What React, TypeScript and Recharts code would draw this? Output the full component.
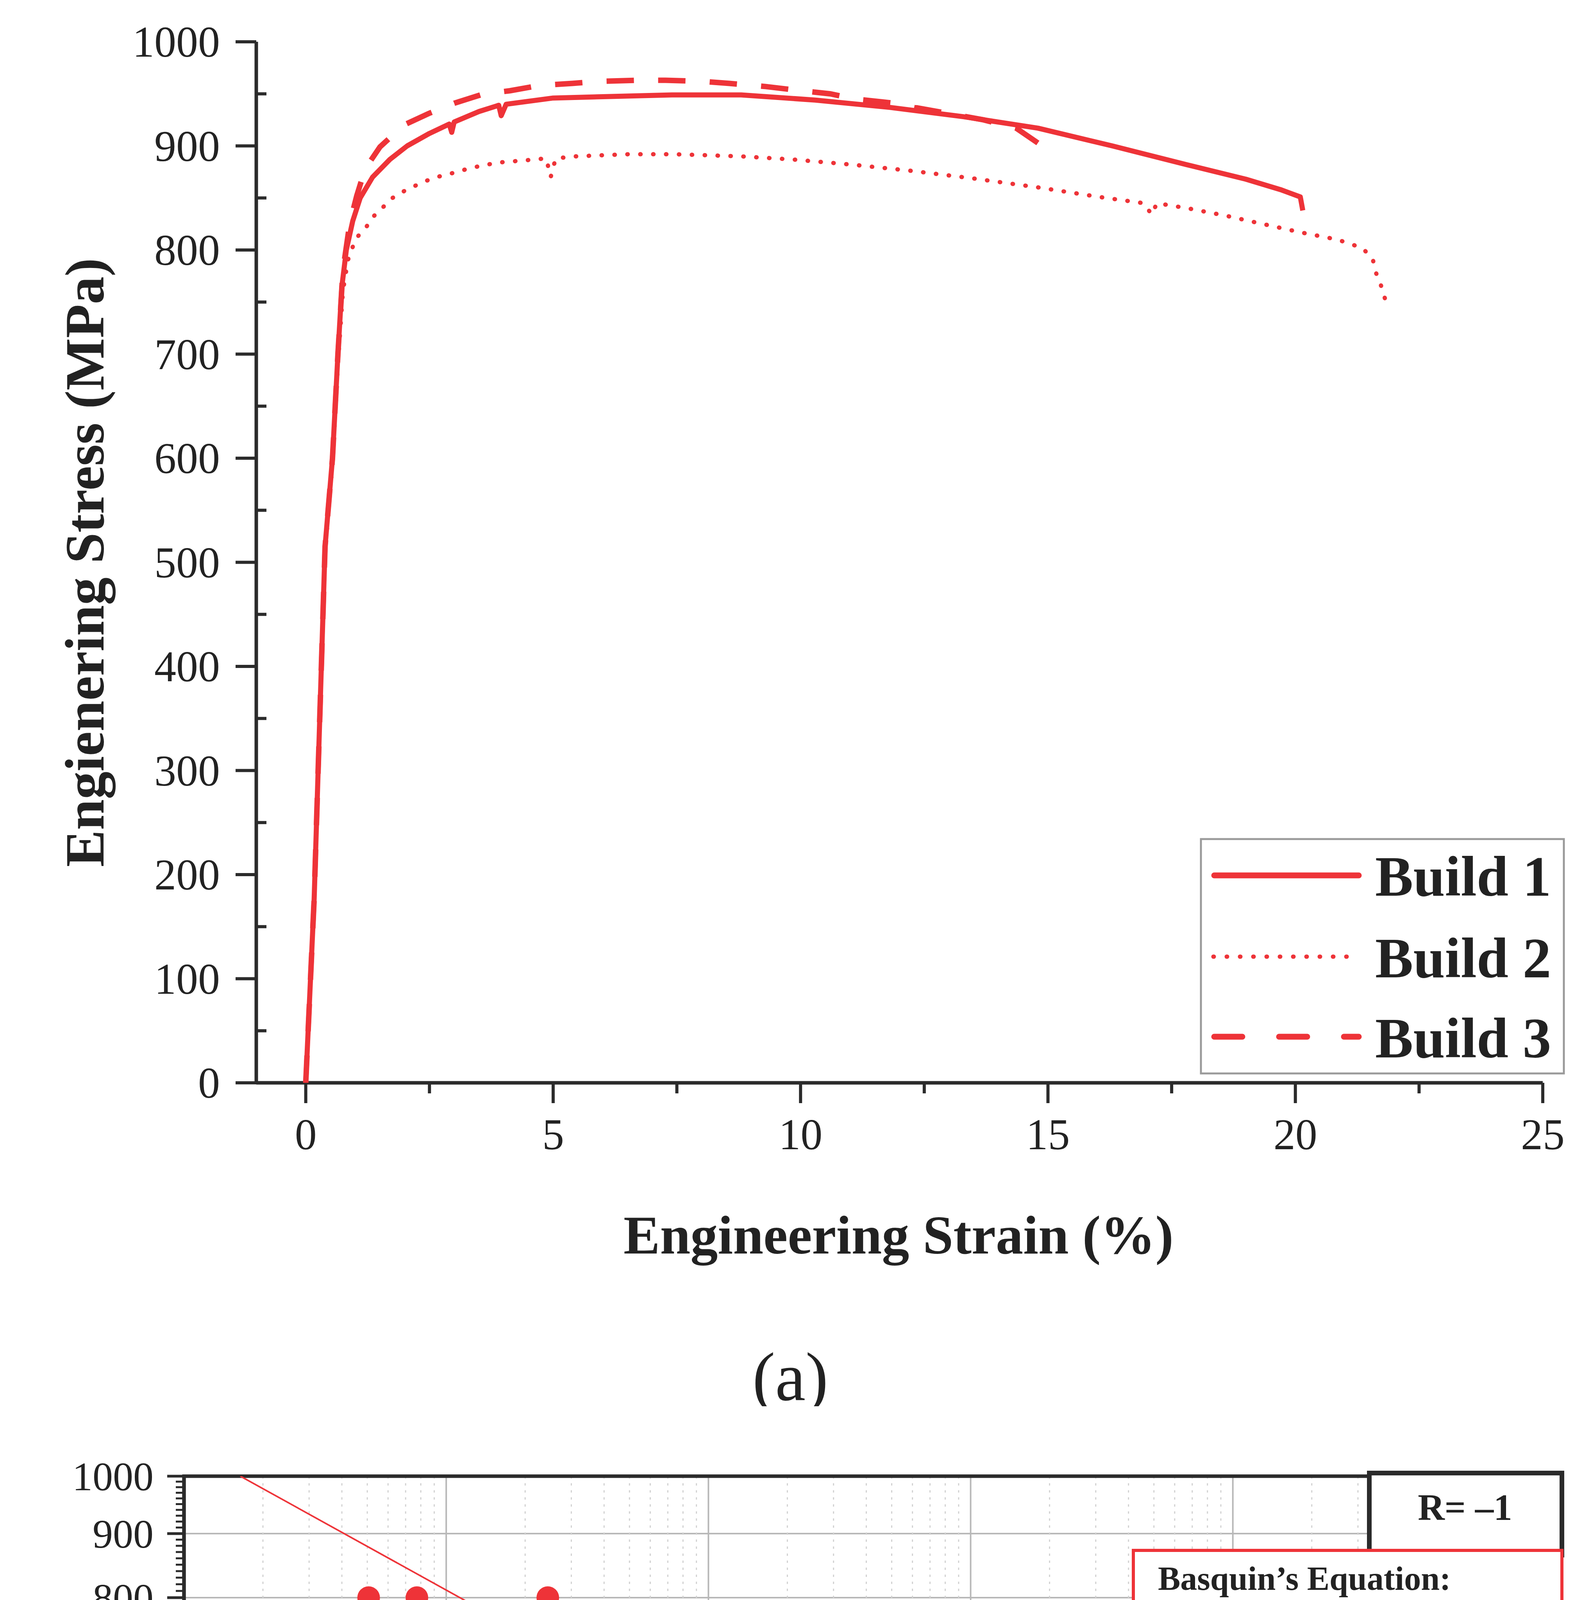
import React from "react"
import { ScatterChart, Scatter, XAxis, YAxis, CartesianGrid, ReferenceArea } from "recharts"

const RED = "#EE3338"
const AXIS = "#2B2B2B"
const INK = "#222222"
const SERIF = "'Liberation Serif', 'Times New Roman', serif"

// (a) tensile curves, [strain %, stress MPa]
const build1: [number, number][] = [
  [0, 0], [0.17, 177], [0.39, 515], [0.54, 600], [0.65, 700], [0.73, 765], [0.82, 800],
  [0.95, 828], [1.1, 850], [1.35, 870], [1.7, 887], [2.05, 900], [2.5, 912], [2.9, 921],
  [2.95, 913], [3.0, 923], [3.5, 933], [3.9, 939], [3.95, 929], [4.05, 940], [5.0, 946],
  [5.8, 947], [7.4, 949], [8.8, 949], [10.3, 944], [11.8, 937], [13.3, 928], [14.8, 917],
  [16.3, 900], [17.8, 882], [19.0, 868], [19.7, 858], [20.1, 851], [20.15, 838],
]
const build2: [number, number][] = [
  [0, 0], [0.17, 177], [0.39, 510], [0.54, 595], [0.65, 690], [0.75, 760], [0.85, 790],
  [1.01, 811], [1.21, 821], [1.34, 831], [1.54, 840], [1.72, 849], [1.92, 855], [2.18, 861],
  [2.41, 866], [2.64, 870], [2.9, 873], [3.35, 879], [3.88, 884], [4.41, 886], [4.86, 888],
  [4.95, 870], [5.05, 888], [5.47, 890], [6.52, 892], [7.42, 892], [8.78, 890], [9.83, 887],
  [11.04, 882], [12.25, 876], [13.45, 869], [14.82, 860], [16.03, 851], [16.93, 845],
  [17.1, 834], [17.2, 845], [17.83, 840], [18.59, 833], [19.34, 825], [20.1, 817],
  [20.85, 810], [21.35, 802], [21.56, 792], [21.63, 778], [21.73, 766], [21.8, 755], [21.88, 743],
]
const build3: [number, number][] = [
  [0, 0], [0.17, 177], [0.39, 515], [0.54, 600], [0.65, 700], [0.75, 780], [0.89, 826],
  [1.03, 852], [1.2, 878], [1.5, 899], [1.98, 920], [2.48, 931], [3.0, 941], [3.6, 950],
  [4.13, 953], [4.71, 958], [5.39, 960], [5.91, 962], [6.67, 963], [7.27, 963], [8.0, 962],
  [8.56, 960], [9.3, 957], [9.83, 954], [10.6, 950], [11.1, 945], [11.9, 941], [12.3, 937],
  [13.0, 931], [13.7, 925], [14.36, 917], [14.82, 902],
]

const strainTicks = [0, 5, 10, 15, 20, 25]
const strainMinor = [2.5, 7.5, 12.5, 17.5, 22.5]
const stressTicks = [0, 100, 200, 300, 400, 500, 600, 700, 800, 900, 1000]
const stressMinor = [50, 150, 250, 350, 450, 550, 650, 750, 850, 950]

// (b) S-N data, [cycles to failure, stress amplitude MPa]
const wireDed: [number, number][] = [
  [506, 800], [773, 800], [2440, 800], [5940, 700], [7550, 700], [9460, 700], [5740, 600],
  [13600, 600], [40800, 600], [17900, 500], [54400, 500], [71700, 500], [168000, 400],
]
const edwards: [number, number][] = [
  [2150, 538], [2250, 525], [3520, 476], [8050, 470], [6250, 420], [13460, 414],
  [12600, 298], [23900, 291], [72100, 178], [170000, 168.5],
]
const rafi: [number, number][] = [
  [19700, 402], [90600, 302], [881000, 321], [2230000, 282], [9930000, 276.5],
  [10100000, 258], [9800000, 243],
]
const ackelid: [number, number][] = [
  [19450, 643], [22100, 643], [31300, 604], [34400, 602], [35300, 559], [40600, 562],
  [58600, 482], [73400, 482], [90800, 486], [142000, 403], [204600, 401], [213000, 373],
  [208000, 365], [420000, 364], [906000, 364], [288000, 351], [198600, 349], [170600, 338],
  [212000, 328], [246000, 328], [302000, 314], [9570000, 339],
]
const ahmad: [number, number][] = [[88300, 350], [167000, 268.5], [194000, 205], [244000, 205]]
const molaei: [number, number][] = [
  [25400, 545], [30400, 545], [32200, 546], [37300, 449], [54500, 449], [78100, 365],
  [87100, 365], [97600, 365], [111700, 365], [133000, 300], [154000, 300], [246000, 300],
  [277000, 300], [782000, 244], [1160000, 246],
]
const runouts: [number, number][] = [[9570000, 339], [9930000, 276.5], [10100000, 258], [9800000, 243]]
const basquin: [number, number][] = [[164, 1000], [17500000, 262]]

const cycleTicks = [1e2, 1e3, 1e4, 1e5, 1e6, 1e7]
const cycleMinor = cycleTicks.slice(0, -1).flatMap((d) => [2, 3, 4, 5, 6, 7, 8, 9].map((m) => m * d))
const ampTicks = [200, 300, 400, 500, 600, 700, 800, 900, 1000]
const ampMinor = Array.from({ length: 86 }, (_, i) => 150 + i * 10).filter((v) => v % 100 !== 0)

const toXY = (pts: [number, number][]) => pts.map(([x, y]) => ({ x, y }))
const byNum = (a: number, b: number) => a - b

// ---------- ticks ----------
function StrainTick({ x, y, payload }: any) {
  const v = payload.value
  const major = strainTicks.includes(v)
  return (
    <g>
      <line x1={x} x2={x} y1={y} y2={y + (major ? 52 : 27)} stroke={AXIS} strokeWidth={8} />
      {major && (
        <text x={x} y={y + 170} textAnchor="middle" fontFamily={SERIF} fontSize={112} fill={INK}>
          {v}
        </text>
      )}
    </g>
  )
}

function StressTick({ x, y, payload }: any) {
  const v = payload.value
  const major = stressTicks.includes(v)
  if (!major) return <line x1={x} x2={x + 26} y1={y} y2={y} stroke={AXIS} strokeWidth={8} />
  return (
    <g>
      <line x1={x - 53} x2={x} y1={y} y2={y} stroke={AXIS} strokeWidth={8} />
      <text x={x - 93} y={y + 38} textAnchor="end" fontFamily={SERIF} fontSize={112} fill={INK}>
        {v}
      </text>
    </g>
  )
}

function CycleTick({ x, y, payload }: any) {
  const v = payload.value
  const major = cycleTicks.includes(v)
  if (!major) return <line x1={x} x2={x} y1={y} y2={y + 24} stroke={AXIS} strokeWidth={6} />
  return (
    <g>
      <line x1={x} x2={x} y1={y} y2={y + 48} stroke={AXIS} strokeWidth={7} />
      <text x={x} y={y + 178} textAnchor="middle" fontFamily={SERIF} fontSize={100} fill={INK}>
        10
        <tspan dy={-40} fontSize={62}>
          {Math.round(Math.log10(v))}
        </tspan>
      </text>
    </g>
  )
}

function AmpTick({ x, y, payload }: any) {
  const v = payload.value
  const major = ampTicks.includes(v)
  if (!major) return <line x1={x - 21} x2={x} y1={y} y2={y} stroke={AXIS} strokeWidth={5} />
  return (
    <g>
      <line x1={x - 43} x2={x} y1={y} y2={y} stroke={AXIS} strokeWidth={7} />
      <text x={x - 78} y={y + 36} textAnchor="end" fontFamily={SERIF} fontSize={104} fill={INK}>
        {v}
      </text>
    </g>
  )
}

// ---------- markers ----------
const Dot = ({ cx, cy }: any) => <circle cx={cx} cy={cy} r={29} fill={RED} />
const TriDown = ({ cx, cy }: any) => (
  <path d={`M${cx - 37},${cy - 31}L${cx + 37},${cy - 31}L${cx},${cy + 33}Z`} fill="none" stroke="#1F70B8" strokeWidth={8} />
)
const TriUp = ({ cx, cy }: any) => (
  <path d={`M${cx - 38},${cy + 31}L${cx + 38},${cy + 31}L${cx},${cy - 33}Z`} fill="none" stroke={INK} strokeWidth={9} />
)
const Sq = ({ cx, cy }: any) => (
  <rect x={cx - 27} y={cy - 27} width={54} height={54} fill="none" stroke="#25A03A" strokeWidth={8} />
)
const Penta = ({ cx, cy }: any) => {
  const pts = [0, 1, 2, 3, 4]
    .map((k) => {
      const a = ((-90 + 72 * k) * Math.PI) / 180
      return `${cx + 32 * Math.cos(a)},${cy + 32 * Math.sin(a)}`
    })
    .join(" ")
  return <polygon points={pts} fill="#85D2F6" stroke="#A57CC9" strokeWidth={5} />
}
const Diamond = ({ cx, cy }: any) => (
  <path d={`M${cx},${cy - 37}L${cx + 37},${cy}L${cx},${cy + 37}L${cx - 37},${cy}Z`} fill="#F4A3A8" stroke="#2E3192" strokeWidth={8} />
)
const Arrow = ({ cx, cy }: any) => (
  <g>
    <line x1={cx + 30} x2={cx + 75} y1={cy + 4} y2={cy + 4} stroke={INK} strokeWidth={5} />
    <polygon points={`${cx + 62},${cy - 12} ${cx + 128},${cy + 4} ${cx + 62},${cy + 20}`} fill={INK} />
  </g>
)
const Nothing = () => <g />

const legendB = [
  { label: "Wire-DED ASHM, AD, polished, (current study)", Shape: Dot },
  { label: "E-beam, AD, machined, Edwards et al. (2013)", Shape: TriDown },
  { label: "E-beam, AD, machined, Rafi et al. (2013)", Shape: TriUp },
  { label: "E-beam, AD, machined, Ackelid et al. (2009)", Shape: Sq },
  { label: "L-PBF, AD, polished, Ahmad et al. (2025)", Shape: Penta },
  { label: "L-PBF, annealed, machined, Molaei et al.(2020)", Shape: Diamond },
]

const overlay: React.CSSProperties = { position: "absolute", left: 0, pointerEvents: "none" }

export default function App() {
  return (
    <div style={{ position: "absolute", left: 0, top: 0, width: 4052, height: 7168, background: "#fff" }}>
      {/* (a) tensile */}
      <div style={{ position: "absolute", left: 0, top: 0 }}>
        <ScatterChart width={4052} height={3300} margin={{ top: 107, right: 103, bottom: 0, left: 0 }}>
          <XAxis
            type="number"
            dataKey="x"
            domain={[-1, 25]}
            ticks={[...strainTicks, ...strainMinor].sort(byNum)}
            interval={0}
            allowDataOverflow
            tickLine={false}
            tickSize={0}
            tickMargin={0}
            tick={<StrainTick />}
            axisLine={{ stroke: AXIS, strokeWidth: 9 }}
            height={528}
          />
          <YAxis
            type="number"
            dataKey="y"
            domain={[0, 1000]}
            ticks={[...stressTicks, ...stressMinor].sort(byNum)}
            interval={0}
            allowDataOverflow
            tickLine={false}
            tickSize={0}
            tickMargin={0}
            tick={<StressTick />}
            axisLine={{ stroke: AXIS, strokeWidth: 9 }}
            width={656}
          />
          <Scatter
            data={toXY(build2)}
            line={{ stroke: RED, strokeWidth: 11, strokeDasharray: "1 32", strokeLinecap: "round" }}
            shape={<Nothing />}
            isAnimationActive={false}
          />
          <Scatter
            data={toXY(build3)}
            line={{ stroke: RED, strokeWidth: 14, strokeDasharray: "70 62" }}
            shape={<Nothing />}
            isAnimationActive={false}
          />
          <Scatter
            data={toXY(build1)}
            line={{ stroke: RED, strokeWidth: 13, strokeLinejoin: "round" }}
            shape={<Nothing />}
            isAnimationActive={false}
          />
        </ScatterChart>
      </div>
      <svg width={4052} height={3600} style={{ ...overlay, top: 0 }} fontFamily={SERIF}>
        <text transform="translate(265,1440) rotate(-90)" textAnchor="middle" fontSize={142} fontWeight="bold" fill={INK}>
          Engienering Stress (MPa)
        </text>
        <text x={2300} y={3209} textAnchor="middle" fontSize={140} fontWeight="bold" fill={INK}>
          Engineering Strain (%)
        </text>
        <text x={2023} y={3584} textAnchor="middle" fontSize={175} fill={INK}>
          (a)
        </text>
        <rect x={3074} y={2148} width={929} height={600} fill="#fff" stroke="#9A9A9A" strokeWidth={5} />
        <line x1={3108} x2={3478} y1={2241} y2={2241} stroke={RED} strokeWidth={15} strokeLinecap="round" />
        <line x1={3106} x2={3480} y1={2449} y2={2449} stroke={RED} strokeWidth={11} strokeDasharray="1 33" strokeLinecap="round" />
        <line x1={3108} x2={3478} y1={2654} y2={2654} stroke={RED} strokeWidth={15} strokeDasharray="72 94" strokeLinecap="round" />
        {["Build 1", "Build 2", "Build 3"].map((t, i) => (
          <text key={t} x={3520} y={[2293, 2502, 2707][i]} fontSize={146} fontWeight="bold" fill={INK}>
            {t}
          </text>
        ))}
      </svg>

      {/* (b) S-N */}
      <div style={{ position: "absolute", left: 0, top: 3600 }}>
        <ScatterChart width={4052} height={3568} margin={{ top: 179, right: 62, bottom: 0, left: 0 }}>
          <CartesianGrid horizontalValues={ampTicks} verticalValues={cycleTicks} stroke="#B8B8B8" strokeWidth={4} />
          <CartesianGrid horizontal={false} verticalValues={cycleMinor} stroke="#D2D2D2" strokeWidth={3} strokeDasharray="6 12" />
          <XAxis
            type="number"
            dataKey="x"
            scale="log"
            domain={[100, 17500000]}
            ticks={[...cycleTicks, ...cycleMinor].sort(byNum)}
            interval={0}
            allowDataOverflow
            tickLine={false}
            tickSize={0}
            tickMargin={0}
            tick={<CycleTick />}
            axisLine={{ stroke: AXIS, strokeWidth: 9 }}
            height={744}
          />
          <YAxis
            type="number"
            dataKey="y"
            scale="log"
            domain={[150, 1000]}
            ticks={[...ampTicks, ...ampMinor].sort(byNum)}
            interval={0}
            allowDataOverflow
            tickLine={false}
            tickSize={0}
            tickMargin={0}
            tick={<AmpTick />}
            axisLine={{ stroke: AXIS, strokeWidth: 9 }}
            width={471}
          />
          <ReferenceArea x1={100} x2={17500000} y1={150} y2={1000} fill="none" stroke={AXIS} strokeWidth={9} />
          <Scatter data={toXY(basquin)} line={{ stroke: RED, strokeWidth: 4 }} shape={<Nothing />} isAnimationActive={false} />
          <Scatter data={toXY(ackelid)} shape={<Sq />} isAnimationActive={false} />
          <Scatter data={toXY(edwards)} shape={<TriDown />} isAnimationActive={false} />
          <Scatter data={toXY(rafi)} shape={<TriUp />} isAnimationActive={false} />
          <Scatter data={toXY(ahmad)} shape={<Penta />} isAnimationActive={false} />
          <Scatter data={toXY(molaei)} shape={<Diamond />} isAnimationActive={false} />
          <Scatter data={toXY(wireDed)} shape={<Dot />} isAnimationActive={false} />
          <Scatter data={toXY(runouts)} shape={<Arrow />} isAnimationActive={false} />
        </ScatterChart>
      </div>
      <svg width={4052} height={3568} style={{ ...overlay, top: 3600 }} fontFamily={SERIF}>
        <text transform="translate(127,1502) rotate(-90)" textAnchor="middle" fontSize={134} fontWeight="bold" fill={INK}>
          Stress Amplitude (MPa)
        </text>
        <text x={2230} y={3157} textAnchor="middle" fontSize={134} fontWeight="bold" fill={INK}>
          Cycles to Failure
        </text>
        <text x={2023} y={3463} textAnchor="middle" fontSize={175} fill={INK}>
          (b)
        </text>

        <rect x={476} y={2192} width={1795} height={626} fill="#fff" stroke="#444" strokeWidth={4} />
        {legendB.map(({ label, Shape }, i) => {
          const cy = [2265, 2368, 2467, 2568, 2670, 2769][i]
          return (
            <g key={label}>
              <Shape cx={563} cy={cy} />
              <text x={658} y={cy + 26} fontSize={80} fill={INK}>
                {label}
              </text>
            </g>
          )
        })}

        <rect x={3505} y={171} width={493} height={210} fill="#fff" stroke={AXIS} strokeWidth={12} />
        <text x={3750} y={291} textAnchor="middle" fontSize={95} fontWeight="bold" fill={INK}>
          R= –1
        </text>
        <rect x={2901} y={369} width={1097} height={297} fill="#fff" stroke={RED} strokeWidth={8} />
        <text x={2964} y={470} fontSize={86} fontWeight="bold" fill={INK}>
          Basquin’s Equation:
        </text>
        <text x={2964} y={577} fontSize={94} fontWeight="bold" fill={INK}>
          σ
          <tspan fontSize={62} dy={22}>a</tspan>
          <tspan dy={-22}> = 1941.62(2N</tspan>
          <tspan fontSize={62} dy={22}>f</tspan>
          <tspan dy={-22}>)</tspan>
          <tspan fontSize={66} dy={-38}>−0.1153</tspan>
        </text>
      </svg>
    </div>
  )
}
